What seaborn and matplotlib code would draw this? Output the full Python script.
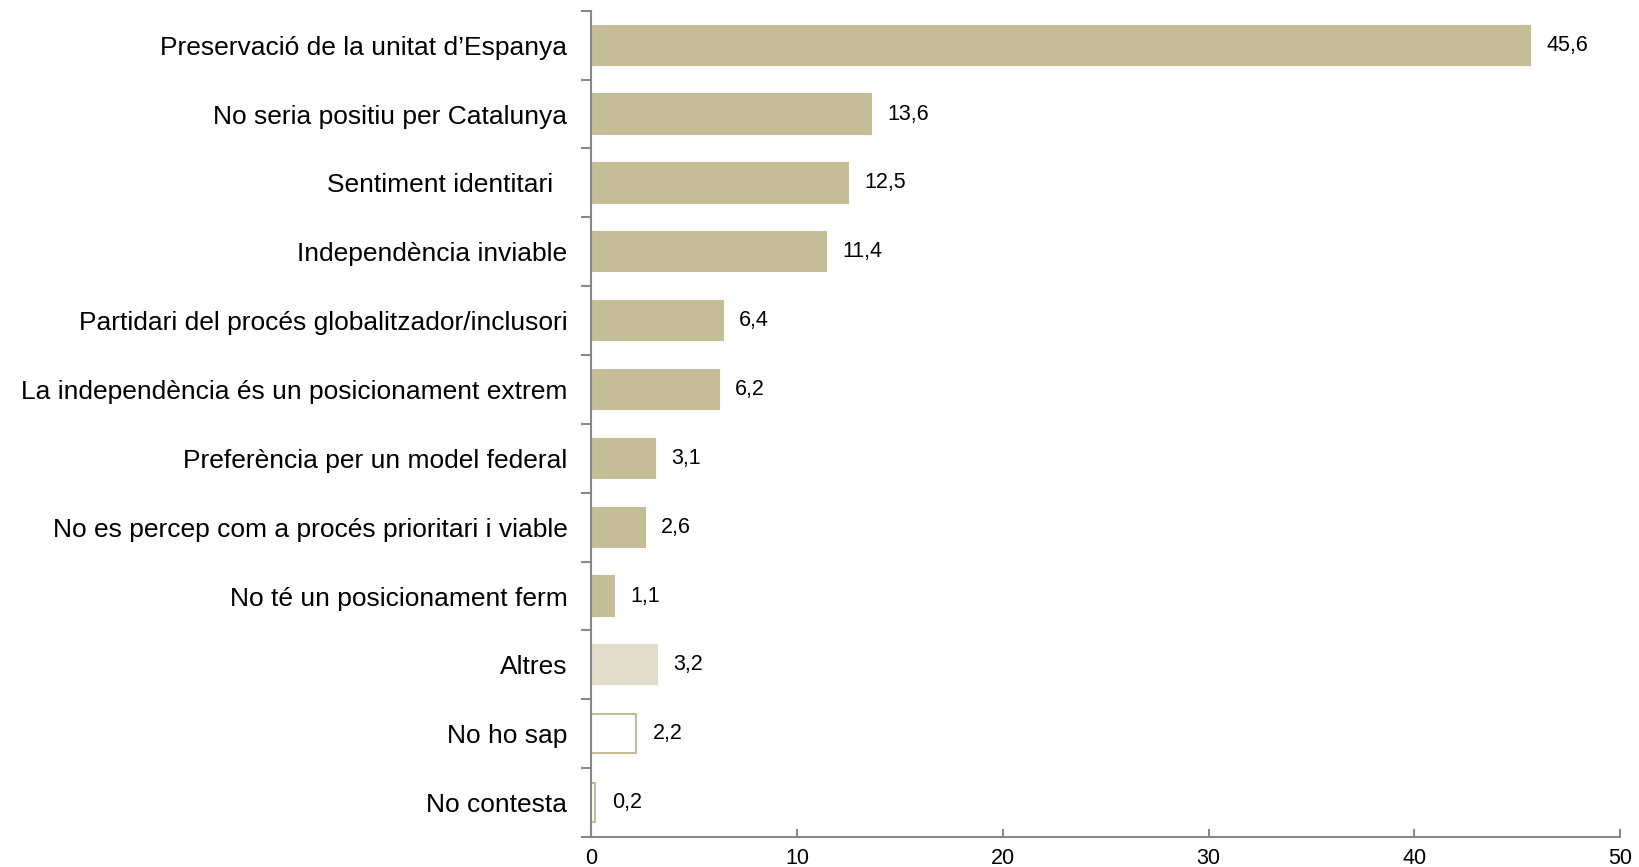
import matplotlib.pyplot as plt
import numpy as np
import pandas as pd
import seaborn as sns

# dades
categories = [
    "Preservació de la unitat d’Espanya",
    "No seria positiu per Catalunya",
    "Sentiment identitari  ",
    "Independència inviable",
    "Partidari del procés globalitzador/inclusori",
    "La independència és un posicionament extrem",
    "Preferència per un model federal",
    "No es percep com a procés prioritari i viable",
    "No té un posicionament ferm",
    "Altres",
    "No ho sap",
    "No contesta",
]
values = [45.6, 13.6, 12.5, 11.4, 6.4, 6.2, 3.1, 2.6, 1.1, 3.2, 2.2, 0.2]
fill_colors = ["#C4BD97"] * 9 + ["#E1DDCB", "#FFFFFF", "#FFFFFF"]
edge_colors = ["#C4BD97"] * 9 + ["#E1DDCB", "#C4BD97", "#C4BD97"]

df = pd.DataFrame({"cat": categories, "val": values})

sns.set_style("white")
plt.rcParams['font.family'] = ['Liberation Sans', 'DejaVu Sans']

fig = plt.figure(figsize=(16.4, 8.67), dpi=100)
ax = fig.add_axes([0.3604, 0.0346, 0.6275, 0.953])

sns.barplot(data=df, x="val", y="cat", orient="h", ax=ax, width=0.57)

for bar, fc, ec in zip(ax.patches, fill_colors, edge_colors):
    bar.set_facecolor(fc)
    bar.set_edgecolor(ec)
    bar.set_linewidth(1.5)

for i, v in enumerate(values):
    ax.text(v + 0.8, i, f"{v:.1f}".replace(".", ","), va="center", ha="left",
            fontsize=15.5, color="#000000")

ax.set_xlim(0, 50)
ax.set_ylim(len(categories) - 0.5, -0.5)
ax.set_xticks(np.arange(0, 51, 10))
ax.set_xlabel("")
ax.set_ylabel("")

# ticks a les fronteres de categoria
ax.set_yticks(np.arange(len(categories)))
ax.set_yticklabels(categories, fontsize=19, color="#000000")
ax.set_yticks(np.arange(-0.5, len(categories)), minor=True)
ax.tick_params(axis="y", which="major", left=False, length=0, pad=17)
ax.tick_params(axis="y", which="minor", left=True, length=7, width=1.5, color="#888888", direction="out")
ax.tick_params(axis="x", bottom=True, length=6, width=1.5, color="#888888", direction="in",
               labelsize=15.5, labelcolor="#000000", pad=8)

for s in ["top", "right"]:
    ax.spines[s].set_visible(False)
for s in ["left", "bottom"]:
    ax.spines[s].set_color("#888888")
    ax.spines[s].set_linewidth(1.5)

fig.savefig("out.png", dpi=100, facecolor="white")
